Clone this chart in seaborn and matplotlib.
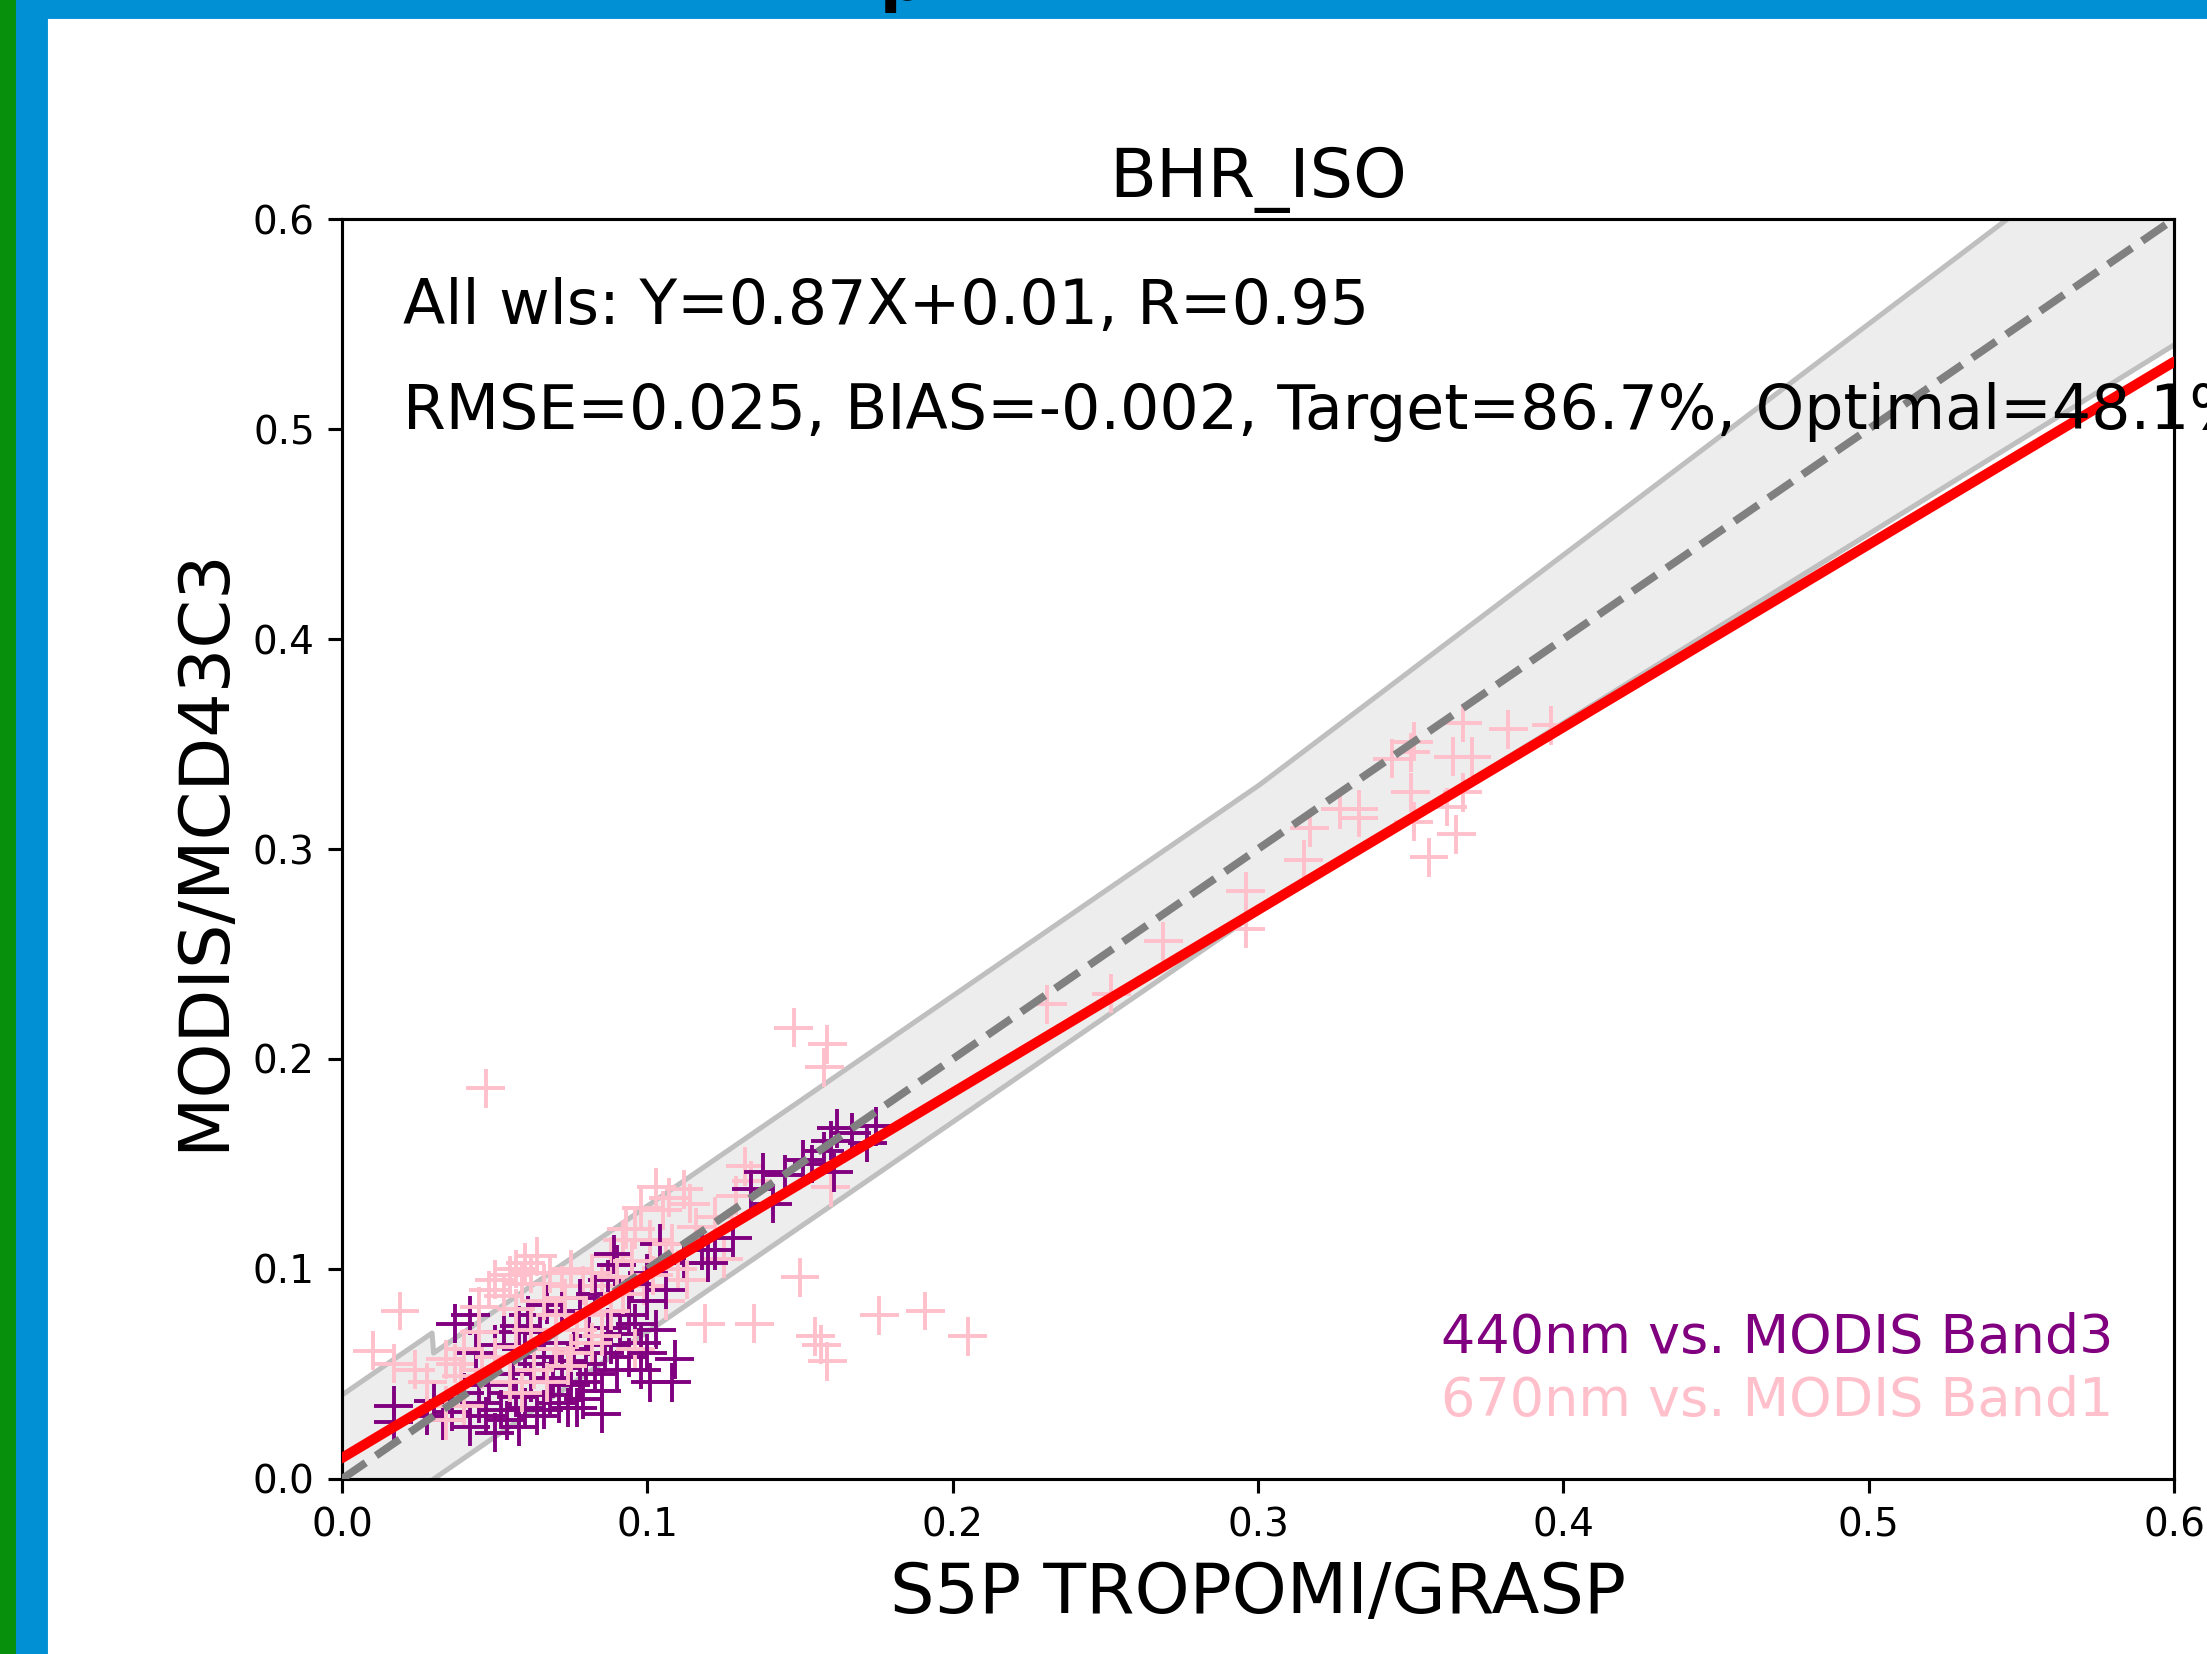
#!/usr/bin/env python3
"""BHR_ISO validation scatter: S5P TROPOMI/GRASP vs MODIS/MCD43C3."""
import matplotlib

matplotlib.use("Agg")
import matplotlib.pyplot as plt
import numpy as np
import pandas as pd
import seaborn as sns
from matplotlib.patches import Rectangle

# 440 nm vs MODIS Band3 (purple)
b3_x = [0.017, 0.017, 0.028, 0.030, 0.033, 0.036, 0.037, 0.040, 0.042, 0.042,
        0.045, 0.047, 0.048, 0.050, 0.052, 0.054, 0.055, 0.056, 0.057, 0.058,
        0.060, 0.060, 0.062, 0.063, 0.064, 0.065, 0.066, 0.066, 0.068, 0.069,
        0.070, 0.071, 0.072, 0.074, 0.074, 0.075, 0.076, 0.078, 0.079, 0.080,
        0.081, 0.083, 0.085, 0.085, 0.086, 0.087, 0.088, 0.090, 0.091, 0.094,
        0.094, 0.096, 0.098, 0.098, 0.103, 0.108, 0.109, 0.044, 0.050, 0.053,
        0.058, 0.061, 0.067, 0.072, 0.078, 0.083, 0.087, 0.090, 0.095, 0.089,
        0.100, 0.104, 0.112, 0.118, 0.120, 0.122, 0.128, 0.138, 0.141, 0.145,
        0.151, 0.154, 0.161, 0.160, 0.162, 0.167, 0.175, 0.172, 0.158, 0.134,
        0.100, 0.106, 0.100, 0.101, 0.077]
b3_y = [0.035, 0.027, 0.030, 0.037, 0.028, 0.032, 0.074, 0.041, 0.078, 0.025,
        0.036, 0.030, 0.045, 0.022, 0.033, 0.028, 0.041, 0.050, 0.039, 0.025,
        0.034, 0.062, 0.046, 0.055, 0.030, 0.070, 0.033, 0.058, 0.040, 0.048,
        0.065, 0.036, 0.053, 0.034, 0.056, 0.045, 0.062, 0.046, 0.038, 0.055,
        0.068, 0.050, 0.031, 0.042, 0.060, 0.072, 0.064, 0.052, 0.069, 0.058,
        0.078, 0.074, 0.065, 0.052, 0.071, 0.046, 0.057, 0.060, 0.064, 0.070,
        0.073, 0.078, 0.083, 0.080, 0.086, 0.088, 0.095, 0.102, 0.093, 0.107,
        0.098, 0.112, 0.103, 0.109, 0.103, 0.109, 0.115, 0.146, 0.131, 0.145,
        0.152, 0.150, 0.146, 0.161, 0.167, 0.165, 0.168, 0.160, 0.156, 0.138,
        0.085, 0.090, 0.060, 0.046, 0.034]

# 670 nm vs MODIS Band1 (pink)
b1_x = [0.047, 0.148, 0.159, 0.158, 0.150, 0.119, 0.135, 0.155, 0.157, 0.159,
        0.176, 0.191, 0.205, 0.019, 0.010, 0.160,
        0.231, 0.252, 0.269, 0.296, 0.296, 0.315, 0.317, 0.327, 0.333, 0.333,
        0.344, 0.351, 0.350, 0.364, 0.370, 0.367, 0.350, 0.351, 0.362, 0.367,
        0.365, 0.356, 0.382, 0.396,
        0.132, 0.134, 0.129, 0.114, 0.103, 0.098, 0.093, 0.101, 0.106, 0.125,
        0.099, 0.106, 0.112, 0.107, 0.105, 0.092, 0.096, 0.088, 0.085, 0.079,
        0.072, 0.066, 0.059, 0.064, 0.060, 0.055, 0.050, 0.048, 0.053, 0.057,
        0.062, 0.068, 0.075, 0.082, 0.090, 0.095, 0.116, 0.122, 0.108, 0.080,
        0.070, 0.057, 0.062, 0.077, 0.085, 0.096, 0.070, 0.057, 0.063, 0.055,
        0.040, 0.037, 0.034, 0.039, 0.028, 0.024, 0.017, 0.034, 0.040, 0.034,
        0.046, 0.050, 0.045, 0.075, 0.088, 0.092, 0.066, 0.073, 0.045, 0.102,
        0.110, 0.113, 0.067, 0.059, 0.074, 0.082]
b1_y = [0.186, 0.215, 0.207, 0.196, 0.096, 0.074, 0.074, 0.068, 0.064, 0.056,
        0.078, 0.080, 0.068, 0.080, 0.061, 0.139,
        0.226, 0.231, 0.256, 0.280, 0.262, 0.295, 0.310, 0.319, 0.319, 0.315,
        0.343, 0.351, 0.346, 0.344, 0.344, 0.360, 0.327, 0.313, 0.320, 0.327,
        0.307, 0.296, 0.357, 0.359,
        0.149, 0.142, 0.135, 0.131, 0.139, 0.129, 0.119, 0.114, 0.105, 0.105,
        0.092, 0.085, 0.138, 0.134, 0.128, 0.114, 0.119, 0.106, 0.092, 0.092,
        0.092, 0.093, 0.093, 0.106, 0.103, 0.097, 0.095, 0.090, 0.087, 0.100,
        0.098, 0.098, 0.100, 0.098, 0.096, 0.104, 0.120, 0.125, 0.112, 0.078,
        0.078, 0.081, 0.071, 0.071, 0.068, 0.062, 0.062, 0.063, 0.052, 0.046,
        0.062, 0.055, 0.057, 0.049, 0.046, 0.052, 0.055, 0.035, 0.035, 0.028,
        0.052, 0.058, 0.070, 0.060, 0.080, 0.088, 0.085, 0.086, 0.082, 0.097,
        0.100, 0.095, 0.046, 0.041, 0.054, 0.065]

LABEL_B3 = "440nm vs. MODIS Band3"
LABEL_B1 = "670nm vs. MODIS Band1"
FIT_SLOPE, FIT_INTERCEPT, FIT_R = 0.87, 0.01, 0.95
STATS = {"RMSE": "0.025", "BIAS": "-0.002", "Target": "86.7%", "Optimal": "48.1%"}
TICKS = [0.0, 0.1, 0.2, 0.3, 0.4, 0.5, 0.6]

# target envelope: +-0.04 near zero, then max(0.03, 10%)
ENV_SMALL_X, ENV_SMALL_ERR, ENV_ABS, ENV_REL = 0.03, 0.04, 0.03, 0.10

assert len(b3_x) == len(b3_y) and len(b1_x) == len(b1_y)

# interleave the two bands so markers overlap as in the original
rows = []
for i in range(max(len(b3_x), len(b1_x))):
    if i < len(b3_x):
        rows.append((b3_x[i], b3_y[i], LABEL_B3))
    if i < len(b1_x):
        rows.append((b1_x[i], b1_y[i], LABEL_B1))
df = pd.DataFrame(rows, columns=["grasp", "modis", "band"])

sns.set_style("ticks")
plt.rcParams["font.family"] = ["DejaVu Sans"]
plt.rcParams.update({"text.color": "black", "axes.labelcolor": "black",
                     "xtick.color": "black", "ytick.color": "black"})

DPI = 280
fig = plt.figure(figsize=(2207 / DPI, 1654 / DPI), dpi=DPI)

# slide frame around the plot
fig.patches.append(Rectangle((0, 1 - 17 / 1654), 1, 17 / 1654, transform=fig.transFigure,
                             color="#0190D4", zorder=0))
fig.patches.append(Rectangle((14 / 2207, 0), 32 / 2207, 1, transform=fig.transFigure,
                             color="#0190D4", zorder=0))
fig.patches.append(Rectangle((0, 0), 14 / 2207, 1, transform=fig.transFigure,
                             color="#06900C", zorder=0))
fig.text(880 / 2207, 1.0, "p", fontsize=16, fontweight="bold", va="baseline", ha="left")

ax = fig.add_axes([342 / 2207, 1 - 1479 / 1654, 1832 / 2207, 1260 / 1654])

xs = np.linspace(0, 0.6, 1201)
err = np.where(xs < ENV_SMALL_X, ENV_SMALL_ERR, np.maximum(ENV_ABS, ENV_REL * xs))
ax.fill_between(xs, xs - err, xs + err, color="#ededed", lw=0, zorder=1)
ax.plot(xs, xs + err, color="#bfbfbf", lw=1.3, zorder=2)
ax.plot(xs, xs - err, color="#bfbfbf", lw=1.3, zorder=2)

sns.scatterplot(
    data=df, x="grasp", y="modis", hue="band",
    palette={LABEL_B3: "purple", LABEL_B1: "pink"},
    marker="+", s=100, linewidth=1.0, legend=False, ax=ax, zorder=3,
)

ax.plot([0, 0.6], [0, 0.6], color="gray", ls="--", lw=2.0, zorder=4)
fx = np.array([0, 0.6])
ax.plot(fx, FIT_SLOPE * fx + FIT_INTERCEPT, color="red", lw=2.6, zorder=5)

ax.set_xlim(0, 0.6)
ax.set_ylim(0, 0.6)
ax.set_xticks(TICKS)
ax.set_yticks(TICKS)
ax.set_xticklabels([f"{t:.1f}" for t in TICKS])
ax.set_yticklabels([f"{t:.1f}" for t in TICKS])
ax.tick_params(labelsize=10, length=3.5, width=0.8, pad=3.5, color="black")
for sp in ax.spines.values():
    sp.set_visible(True)
    sp.set_linewidth(0.8)
    sp.set_color("black")

ax.set_title("BHR_ISO", fontsize=17.6, pad=5.6)
ax.set_xlabel("S5P TROPOMI/GRASP", fontsize=18)
ax.set_ylabel("MODIS/MCD43C3", fontsize=18)

ax.text(0.02, 0.55, f"All wls: Y={FIT_SLOPE:.2f}X+{FIT_INTERCEPT:.2f}, R={FIT_R:.2f}",
        fontsize=15.9, va="baseline", zorder=6)
ax.text(0.02, 0.50, ", ".join(f"{k}={v}" for k, v in STATS.items()),
        fontsize=15.9, va="baseline", zorder=6, clip_on=False)
ax.text(0.36, 0.06, LABEL_B3, color="purple", fontsize=13.9, va="baseline", zorder=6)
ax.text(0.36, 0.03, LABEL_B1, color="pink", fontsize=13.9, va="baseline", zorder=6)

fig.savefig("out.png", dpi=DPI)
